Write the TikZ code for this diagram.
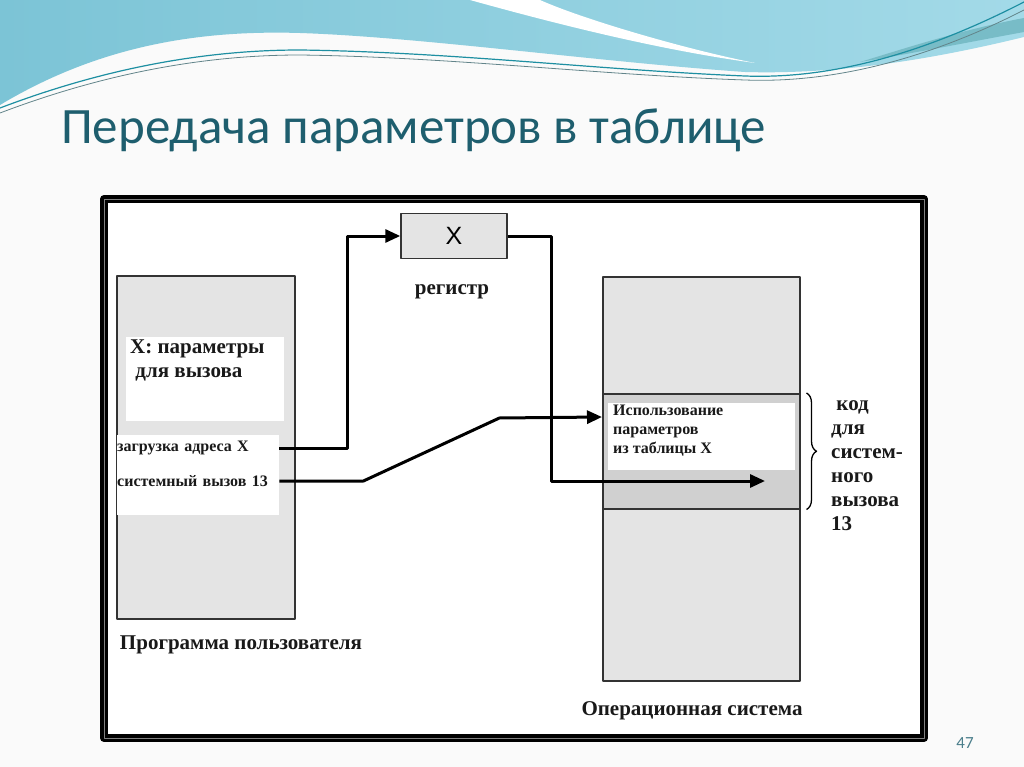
\documentclass[tikz,border=0pt]{standalone}
\usepackage{fontspec}
\setmainfont{Liberation Serif}
\newfontfamily\titlefont{Carlito}
\newfontfamily\regfont{Liberation Sans}
\usetikzlibrary{arrows.meta,decorations.pathreplacing,positioning}
\definecolor{titleteal}{HTML}{1E5E6E}
\definecolor{boxgray}{HTML}{E4E4E4}
\definecolor{bandgray}{HTML}{D0D0D0}
\definecolor{waveleft}{HTML}{7CC4D6}
\definecolor{waveright}{HTML}{A3DAE8}
\definecolor{waveline}{HTML}{1E8FA2}
\begin{document}
\begin{tikzpicture}[x=1pt,y=-1pt,line join=round,>={Triangle[length=15pt,width=13pt]},
    box/.style={draw=black!80,line width=1.5pt,fill=boxgray,inner sep=0pt},
    blank/.style={fill=white,inner sep=0pt},
    lbl/.style={font=\fontsize{21}{24}\selectfont\bfseries,text=black!90,inner sep=0pt},
    small/.style={font=\fontsize{16}{19}\selectfont\bfseries,text=black!90,inner sep=0pt},
    flow/.style={line width=3pt,->}]
    \useasboundingbox (0,0) rectangle (1024,767);
    \fill[gray!4] (0,0) rectangle (1024,767);
    % waves on top
    \shade[left color=waveleft,right color=waveright] (0,0) -- (1024,0) -- (1024,37)
        .. controls (950,55) and (850,75) .. (745,72)
        .. controls (600,62) and (420,37) .. (300,33)
        .. controls (200,30) and (100,45) .. (0,105) -- cycle;
    \fill[white] (470,0) .. controls (560,25) and (660,50) .. (755,63)
        .. controls (680,48) and (580,18) .. (540,0) -- cycle;
    \fill[waveline!60] (1024,18) .. controls (960,30) and (900,50) .. (860,62)
        .. controls (920,52) and (980,40) .. (1024,32) -- cycle;
    \draw[waveline,line width=1.2pt] (0,108) .. controls (100,70) and (200,50) .. (300,50)
        .. controls (450,52) and (600,70) .. (745,76) .. controls (850,80) and (950,40) .. (1024,2);
    \draw[gray!70!waveline,line width=0.8pt] (0,113) .. controls (100,75) and (200,55) .. (300,55)
        .. controls (450,57) and (600,75) .. (745,80) .. controls (850,84) and (950,48) .. (1024,10);
    % title and page number
    \node[anchor=west,text=titleteal,font=\titlefont\fontsize{51}{60}\selectfont,inner sep=0pt] (title) at (61,130) {Передача параметров в таблице};
    \node[text=titleteal!80,font=\titlefont\fontsize{17}{20}\selectfont] (pnum) at (965,743) {47};
    % frame
    \fill[white] (104,199) rectangle (924,738);
    \draw[line width=8pt] (104,199) rectangle (924,738);
    \draw[line width=0.8pt,gray] (104,199) rectangle (924,738);
    % user program
    \node[box,anchor=north west,minimum width=178pt,minimum height=343pt] (prog) at (116,275) {};
    \node[blank,anchor=north west,minimum width=158pt,minimum height=84pt] (parbox) at (126,337) {};
    \node[lbl,anchor=north west,align=left] (params) at (130,340) {X: параметры\\\ для вызова};
    \node[blank,anchor=north west,minimum width=162pt,minimum height=80pt] (callbox) at (117,435) {};
    \node[small,anchor=west,text width=162pt] (load) at (117,448) {загрузка адреса X};
    \node[small,anchor=west,text width=162pt] (sys) at (117,481) {системный вызов 13};
    \node[lbl] (progcap) at (241,645) {Программа пользователя};
    % register
    \node[box,minimum width=106pt,minimum height=45pt] (reg) at (454,236) {\regfont\fontsize{25}{26}\selectfont X};
    \node[lbl] (regcap) at (452,292) {регистр};
    % operating system
    \node[box,anchor=north west,minimum width=197pt,minimum height=404pt] (os) at (602,276) {};
    \node[box,fill=bandgray,anchor=north west,minimum width=197pt,minimum height=115pt] (band) at (602,393) {};
    \node[blank,anchor=north west,minimum width=187pt,minimum height=67pt] (usebox) at (608,403) {};
    \node[small,anchor=north west,align=left] (use) at (613,405) {Использование\\параметров\\из таблицы X};
    \node[lbl] (oscap) at (692,711) {Операционная система};
    \draw[decorate,decoration={brace,amplitude=10pt},line width=1.3pt] ([xshift=6pt]band.north east) -- ([xshift=6pt]band.south east);
    \node[lbl,anchor=north west,align=left] (codelbl) at (831,400) {\ код\\для\\систем-\\ного\\вызова\\13};
    % connectors
    \coordinate (usein) at (602,417);
    \coordinate (tblhit) at (765,481);
    \draw[flow] (load.east) -- ++(68,0) |- (reg.west);
    \draw[flow] (sys.east) -- ++(84,0) -- ++(136,-63) -- (usein);
    \draw[flow] (reg.east) -| ++(44,245) -- (tblhit);
\end{tikzpicture}
\end{document}
